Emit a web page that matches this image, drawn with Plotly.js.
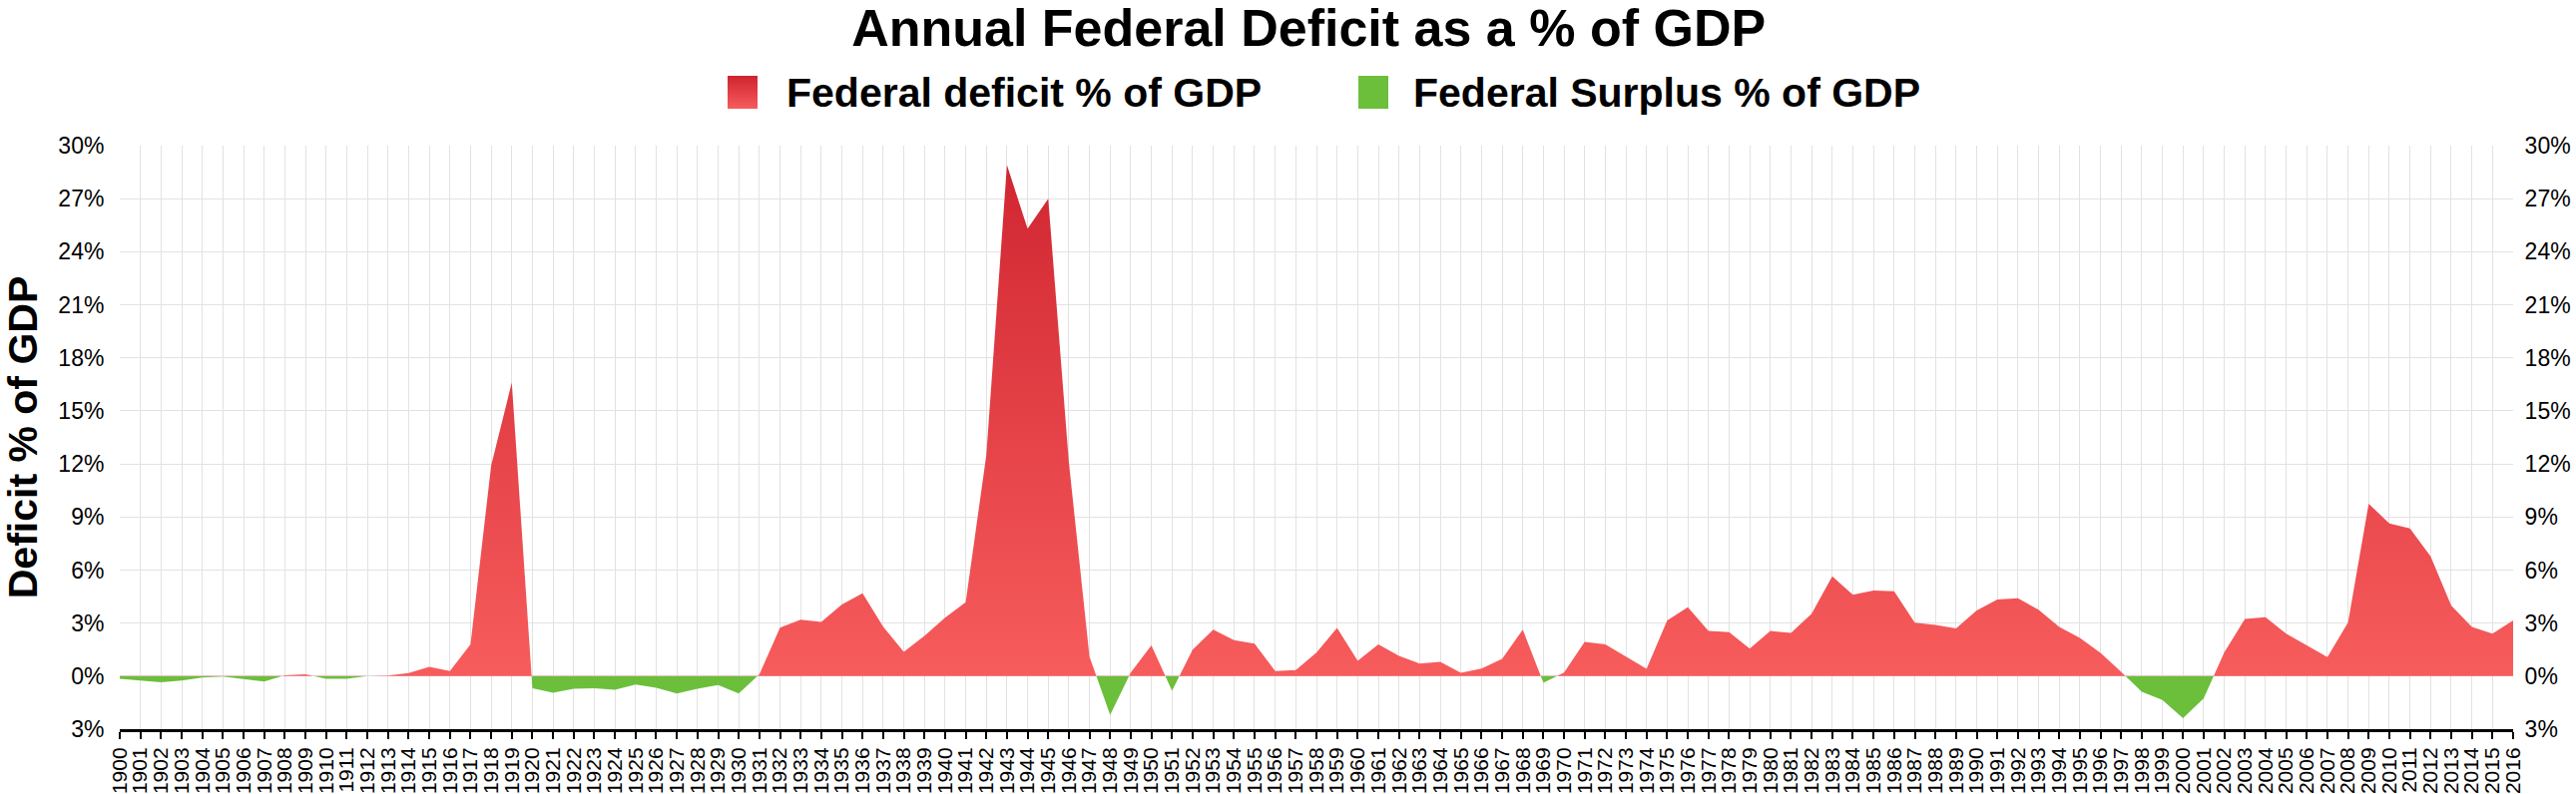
<!DOCTYPE html>
<html>
<head>
<meta charset="utf-8">
<script src="https://cdn.plot.ly/plotly-3.0.1.min.js"></script>
<style>
  html, body { margin: 0; padding: 0; background: #ffffff; }
  #chart { width: 2581px; height: 796px; }
</style>
</head>
<body>
<div id="chart"></div>
<script>
// ---------------- data ----------------
const chartTitle = 'Annual Federal Deficit as a % of GDP';
const deficitLabel = 'Federal deficit % of GDP';
const surplusLabel = 'Federal Surplus % of GDP';
const yAxisTitle = 'Deficit % of GDP';

const years = [
  1900,1901,1902,1903,1904,1905,1906,1907,1908,1909,
  1910,1911,1912,1913,1914,1915,1916,1917,1918,1919,
  1920,1921,1922,1923,1924,1925,1926,1927,1928,1929,
  1930,1931,1932,1933,1934,1935,1936,1937,1938,1939,
  1940,1941,1942,1943,1944,1945,1946,1947,1948,1949,
  1950,1951,1952,1953,1954,1955,1956,1957,1958,1959,
  1960,1961,1962,1963,1964,1965,1966,1967,1968,1969,
  1970,1971,1972,1973,1974,1975,1976,1977,1978,1979,
  1980,1981,1982,1983,1984,1985,1986,1987,1988,1989,
  1990,1991,1992,1993,1994,1995,1996,1997,1998,1999,
  2000,2001,2002,2003,2004,2005,2006,2007,2008,2009,
  2010,2011,2012,2013,2014,2015,2016
];

// deficit as % of GDP (negative = surplus)
const deficitPct = [
  -0.15,-0.25,-0.35,-0.25,-0.08,-0.03,-0.15,-0.30, 0.05, 0.10,
  -0.15,-0.15, 0.00, 0.03, 0.18, 0.53, 0.28, 1.80,11.90,16.60,
  -0.69,-0.94,-0.71,-0.69,-0.77,-0.47,-0.66,-0.99,-0.71,-0.50,
  -0.99, 0.10, 2.74, 3.19, 3.06, 4.05, 4.69, 2.80, 1.37, 2.27,
   3.30, 4.18,12.50,28.90,25.30,27.00,12.10, 1.10,-2.20, 0.20,
   1.74,-0.83, 1.50, 2.63, 2.03, 1.84, 0.28, 0.34, 1.33, 2.72,
   0.86, 1.80, 1.14, 0.71, 0.81, 0.19, 0.43, 0.98, 2.63,-0.38,
   0.20, 1.93, 1.80, 1.09, 0.41, 3.15, 3.90, 2.55, 2.49, 1.55,
   2.55, 2.44, 3.53, 5.65, 4.60, 4.84, 4.80, 3.02, 2.90, 2.70,
   3.71, 4.33, 4.41, 3.75, 2.78, 2.16, 1.31, 0.25,-0.88,-1.35,
  -2.38,-1.26, 1.35, 3.24, 3.33, 2.40, 1.74, 1.08, 3.04, 9.75,
   8.63, 8.35, 6.78, 4.00, 2.78, 2.40, 3.15
];

const yTickVals = [-3, 0, 3, 6, 9, 12, 15, 18, 21, 24, 27, 30];
const yTickText = ['3%', '0%', '3%', '6%', '9%', '12%', '15%', '18%', '21%', '24%', '27%', '30%'];

// ---------------- styling ----------------
const FONT = 'Liberation Sans, Arial, Helvetica, sans-serif';
const GREEN = 'rgb(108,191,59)';
const RED_LOW = 'rgb(247,92,92)';
const RED_HIGH = 'rgb(207,36,48)';
const GRID = '#e2e2e2';
const Y_MIN = -3, Y_MAX = 30;

const W = 2581, H = 796;
const M = { l: 120, r: 63, t: 146, b: 65 };
const plotL = M.l, plotR = W - M.r, plotT = M.t, plotB = H - M.b;
const px2x = p => (p - plotL) / (plotR - plotL);
const py2y = p => (plotB - p) / (plotB - plotT);

const zeroFrac = (0 - Y_MIN) / (Y_MAX - Y_MIN);

const traces = [
  {
    type: 'scatter',
    mode: 'lines',
    x: years,
    y: deficitPct,
    line: { width: 0, color: 'rgba(0,0,0,0)' },
    fill: 'tozeroy',
    fillgradient: {
      type: 'vertical',
      start: Y_MIN,
      stop: Y_MAX,
      colorscale: [[0, GREEN], [zeroFrac, GREEN], [zeroFrac, RED_LOW], [1, RED_HIGH]]
    },
    showlegend: false,
    hovertemplate: '%{x}: %{y}%<extra></extra>'
  },
  {
    type: 'scatter', mode: 'lines', x: [years[0]], y: [null], yaxis: 'y2',
    showlegend: false, hoverinfo: 'skip'
  }
];

const redSwatch = 'data:image/svg+xml;utf8,' + encodeURIComponent(
  '<svg xmlns="http://www.w3.org/2000/svg" width="30" height="33" viewBox="0 0 30 33" preserveAspectRatio="none">' +
  '<defs><linearGradient id="g" x1="0" y1="0" x2="0" y2="1">' +
  '<stop offset="0" stop-color="' + RED_HIGH + '"/><stop offset="1" stop-color="' + RED_LOW + '"/>' +
  '</linearGradient></defs><rect width="30" height="33" fill="url(#g)"/></svg>');

const swTop = 76, swBot = 109;

const layout = {
  width: W, height: H,
  margin: M,
  paper_bgcolor: '#ffffff',
  plot_bgcolor: '#ffffff',
  font: { family: FONT, color: '#000000' },
  showlegend: false,
  title: {
    text: chartTitle,
    font: { family: FONT, size: 52, weight: 700, color: '#000000' },
    x: 0.508, xref: 'container', xanchor: 'center',
    y: 1 - 28 / H, yref: 'container', yanchor: 'middle'
  },
  xaxis: {
    range: [years[0], years[years.length - 1]],
    tickmode: 'linear', tick0: years[0], dtick: 1,
    tickangle: -90,
    tickfont: { family: FONT, size: 21, color: '#000000' },
    showgrid: true, gridcolor: GRID, gridwidth: 1,
    zeroline: false,
    showline: true, linecolor: '#000000', linewidth: 3,
    ticks: 'outside', ticklen: 7, tickwidth: 2, tickcolor: '#000000',
    fixedrange: true
  },
  yaxis: {
    range: [Y_MIN, Y_MAX],
    tickmode: 'array', tickvals: yTickVals, ticktext: yTickText,
    tickfont: { family: FONT, size: 23, color: '#000000' },
    showgrid: true, gridcolor: GRID, gridwidth: 1,
    zeroline: false, showline: false,
    ticks: 'outside', ticklen: 10, tickcolor: 'rgba(0,0,0,0)',
    title: { text: yAxisTitle, font: { family: FONT, size: 41, weight: 700, color: '#000000' }, standoff: 10 },
    fixedrange: true
  },
  yaxis2: {
    overlaying: 'y', side: 'right',
    range: [Y_MIN, Y_MAX],
    tickmode: 'array', tickvals: yTickVals, ticktext: yTickText,
    tickfont: { family: FONT, size: 23, color: '#000000' },
    showgrid: false, zeroline: false, showline: false,
    ticks: 'outside', ticklen: 6, tickcolor: 'rgba(0,0,0,0)',
    fixedrange: true
  },
  images: [{
    source: redSwatch, xref: 'paper', yref: 'paper',
    x: px2x(729), y: py2y(swTop), sizex: px2x(759) - px2x(729), sizey: py2y(swTop) - py2y(swBot),
    xanchor: 'left', yanchor: 'top', sizing: 'stretch', layer: 'above'
  }],
  shapes: [{
    type: 'rect', xref: 'paper', yref: 'paper',
    x0: px2x(1361), x1: px2x(1391), y0: py2y(swBot), y1: py2y(swTop),
    fillcolor: GREEN, line: { width: 0 }
  }],
  annotations: [
    {
      text: deficitLabel, xref: 'paper', yref: 'paper',
      x: px2x(786), y: py2y(93), xanchor: 'left', yanchor: 'middle', showarrow: false,
      font: { family: FONT, size: 41, weight: 700, color: '#000000' }
    },
    {
      text: surplusLabel, xref: 'paper', yref: 'paper',
      x: px2x(1414), y: py2y(93), xanchor: 'left', yanchor: 'middle', showarrow: false,
      font: { family: FONT, size: 41, weight: 700, color: '#000000' }
    }
  ]
};

Plotly.newPlot('chart', traces, layout, { displayModeBar: false, staticPlot: false, responsive: false });
</script>
</body>
</html>
